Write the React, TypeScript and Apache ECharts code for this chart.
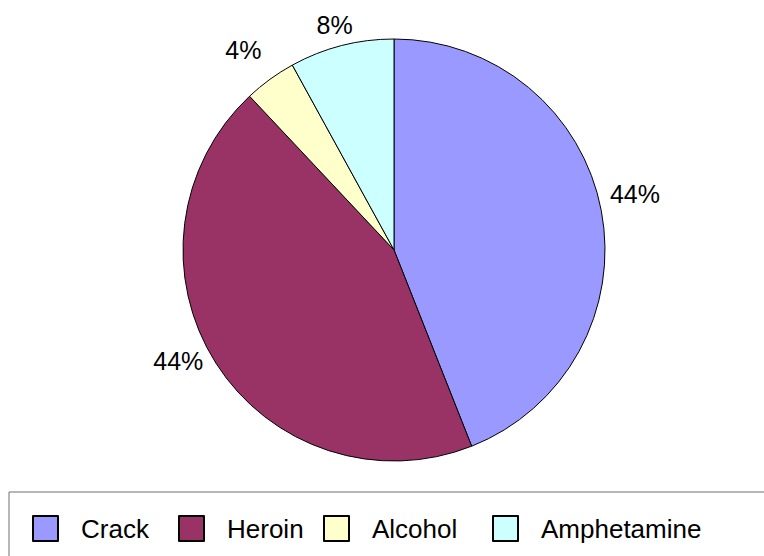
import React, { useEffect, useRef } from "react";
import * as echarts from "echarts";

const categories = ["Crack", "Heroin", "Alcohol", "Amphetamine"];
const values = [11, 11, 1, 2];
const colors = ["#9999FF", "#993366", "#FFFFCC", "#CCFFFF"];
const legendSlotWidths = [97, 96, 120, 180];
// small label nudges (px) applied after radial placement
const labelNudgeX = [-2, -7, -10, -1];
const labelNudgeY = [-10, -21, -6, 2];

const CX = 394;
const CY = 250;
const R = 211;
const FONT = "'Liberation Sans', Arial, sans-serif";

export default function App() {
  const ref = useRef<HTMLDivElement>(null);
  useEffect(() => {
    if (!ref.current) return;
    const chart = echarts.init(ref.current, null, { renderer: "svg" });
    const total = values.reduce((a, b) => a + b, 0);
    const mids: number[] = [];
    let acc = 0;
    values.forEach((v) => {
      mids.push(((acc + v / 2) / total) * Math.PI * 2);
      acc += v;
    });
    chart.setOption({
      animation: false,
      backgroundColor: "#ffffff",
      graphic: [
        {
          type: "rect",
          shape: { x: 9, y: 492, width: 800, height: 100 },
          style: { fill: "none", stroke: "#6e6e6e", lineWidth: 1 },
        },
      ],
      legend: {
        left: 32,
        top: 515,
        padding: 0,
        itemGap: 0,
        itemWidth: 25,
        itemHeight: 25,
        icon: "rect",
        selectedMode: false,
        data: categories.map((name, i) => ({
          name,
          textStyle: {
            width: legendSlotWidths[i],
          },
        })),
        textStyle: {
          fontFamily: FONT,
          fontSize: 26,
          color: "#000",
          padding: [0, 0, 0, 18],
          lineHeight: 25,
        },
      },
      series: [
        {
          type: "pie",
          center: [CX, CY],
          radius: R,
          startAngle: 90,
          clockwise: true,
          color: colors,
          itemStyle: { borderColor: "#000", borderWidth: 1 },
          label: {
            show: true,
            position: "outside",
            formatter: (p: any) => Math.round(p.percent) + "%",
            fontFamily: FONT,
            fontSize: 25,
            color: "#000",
          },
          labelLine: { show: false },
          labelLayout: (params: any) => {
            const i = params.dataIndex;
            const th = mids[i];
            const dx = Math.sin(th);
            const dy = -Math.cos(th);
            const w = params.labelRect.width;
            const off = 10 + Math.abs(dx) * (w / 2) + Math.abs(dy) * 9.5;
            const d = R + off;
            return {
              x: CX + d * dx + labelNudgeX[i],
              y: CY + d * dy + labelNudgeY[i],
              align: "center",
              verticalAlign: "middle",
            };
          },
          emphasis: { disabled: true },
          data: categories.map((name, i) => ({ name, value: values[i] })),
        },
      ],
    });
    return () => chart.dispose();
  }, []);
  return (
    <div
      ref={ref}
      style={{ position: "fixed", left: 0, top: 0, width: 764, height: 556 }}
    />
  );
}
